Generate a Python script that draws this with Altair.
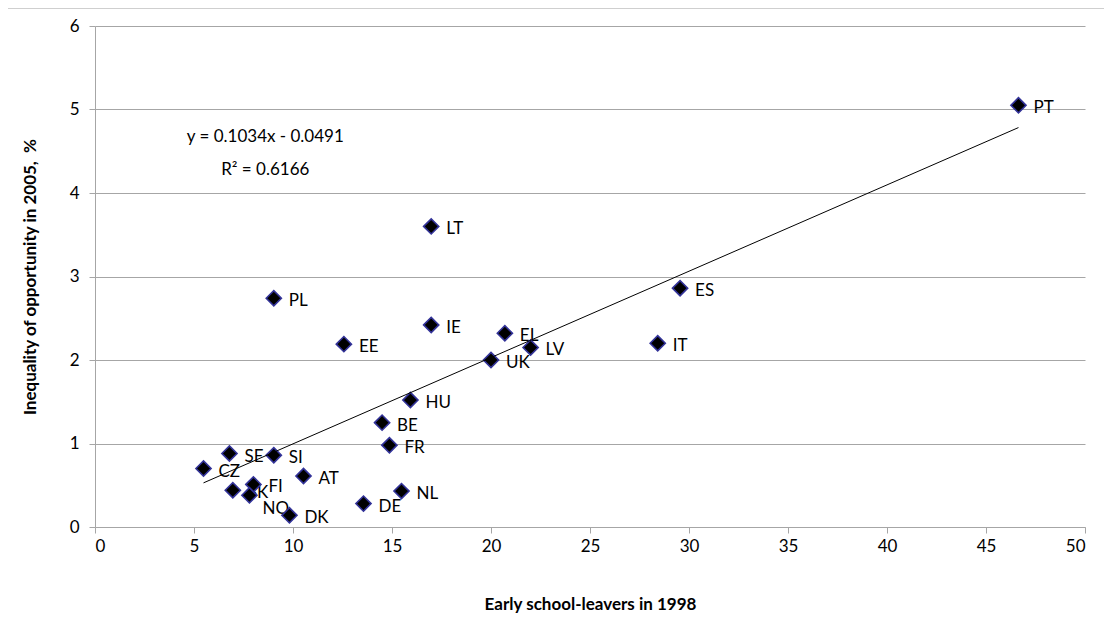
import altair as alt
import pandas as pd

countries = ["PT", "LT", "IE", "EE", "EL", "LV", "UK", "HU", "BE", "FR", "ES", "IT",
             "PL", "SE", "SI", "CZ", "AT", "SK", "FI", "NO", "DK", "DE", "NL"]
early_leavers_1998 = [46.64, 16.98, 16.98, 12.57, 20.7, 22.0, 20.0, 15.93, 14.5, 14.87, 29.55, 28.42,
                      9.03, 6.79, 9.03, 5.48, 10.53, 6.96, 8.0, 7.8, 9.82, 13.56, 15.48]
inequality_2005 = [5.05, 3.60, 2.42, 2.19, 2.32, 2.15, 2.0, 1.52, 1.25, 0.98, 2.86, 2.20,
                   2.74, 0.88, 0.86, 0.70, 0.61, 0.44, 0.51, 0.38, 0.14, 0.28, 0.43]

eq_lines = ["y = 0.1034x - 0.0491", "R² = 0.6166"]
eq_x = [8.6, 8.6]
eq_y = [4.67, 4.28]

df = pd.DataFrame({"country": countries, "x": early_leavers_1998, "y": inequality_2005})
eq_df = pd.DataFrame({"t": eq_lines, "x": eq_x, "y": eq_y})

FONT = "Lato"

xs = alt.Scale(domain=[0, 50], nice=False)
ys = alt.Scale(domain=[0, 6], nice=False)

xenc = alt.X("x:Q", scale=xs,
             axis=alt.Axis(title="Early school-leavers in 1998", values=list(range(0, 51, 5)),
                           format="d", grid=False, domainColor="#a6a6a6", tickColor="#a6a6a6",
                           tickSize=6, labelFontSize=17, labelFont=FONT, labelColor="#000000",
                           labelPadding=5, titleFont=FONT, titleFontSize=17, titleFontWeight="bold",
                           titleColor="#000000", titlePadding=42))
yenc = alt.Y("y:Q", scale=ys,
             axis=alt.Axis(title="Inequality of opportunity in 2005, \u00a0%", values=list(range(0, 7)),
                           format="d", grid=True, gridColor="#a6a6a6", domainColor="#a6a6a6",
                           tickColor="#a6a6a6", tickSize=6, labelFontSize=17, labelFont=FONT,
                           labelColor="#000000", labelPadding=10, titleFont=FONT, titleFontSize=17,
                           titleFontWeight="bold", titleColor="#000000", titlePadding=30))

base = alt.Chart(df)

labels = base.transform_filter(alt.datum.country != "NO").mark_text(
    align="left", baseline="middle", dx=15, dy=3, fontSize=17, font=FONT, color="#000000"
).encode(x=xenc, y=yenc, text="country:N")

label_no = base.transform_filter(alt.datum.country == "NO").mark_text(
    align="left", baseline="middle", dx=13, dy=14, fontSize=17, font=FONT, color="#000000"
).encode(x=xenc, y=yenc, text="country:N")

points = base.mark_point(shape="diamond", filled=True, size=230, fill="#000000",
                         stroke="#333399", strokeWidth=1.6, opacity=1).encode(x=xenc, y=yenc)

trend = base.transform_regression("x", "y").mark_line(color="#000000", strokeWidth=1).encode(
    x=alt.X("x:Q", scale=xs), y=alt.Y("y:Q", scale=ys))

eq = alt.Chart(eq_df).mark_text(align="center", baseline="middle", fontSize=17, font=FONT,
                                color="#000000").encode(
    x=alt.X("x:Q", scale=xs), y=alt.Y("y:Q", scale=ys), text="t:N")

frame = alt.Chart(eq_df).mark_rect(fill=None, stroke="#bfbfbf", strokeWidth=1, clip=False).encode(
    x=alt.value(-88), x2=alt.value(1040), y=alt.value(-18), y2=alt.value(620))

chart = alt.layer(frame, labels, label_no, points, trend, eq).properties(
    width=990, height=501,
    autosize=alt.AutoSizeParams(type="none"),
    padding={"left": 87, "top": 18, "right": 19, "bottom": 86},
    background="#ffffff",
).configure_view(stroke=None)

chart.save("out.html", embed_options={"renderer": "svg", "actions": False})
